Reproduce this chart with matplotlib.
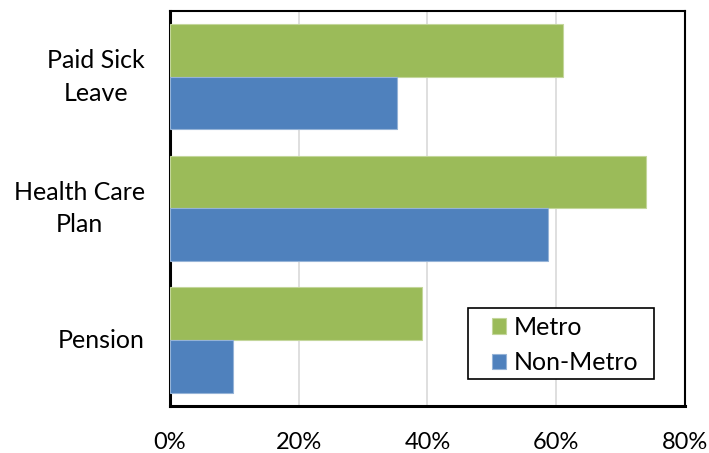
import numpy as np
import matplotlib.pyplot as plt
from matplotlib.patches import Rectangle

CATEGORIES = ['Paid Sick\nLeave', 'Health Care\nPlan', 'Pension']
METRO = [61.0, 74.0, 39.1]
NON_METRO = [35.2, 58.8, 9.8]

GREEN = '#9BBB59'
BLUE = '#4F81BD'


def plot_benefits():
    plt.rcParams['font.family'] = ['Lato', 'DejaVu Sans']
    fig = plt.figure(figsize=(7.09, 4.53), dpi=100)
    ax = fig.add_axes([0.2398, 0.1038, 0.7262, 0.8719])

    pos = np.arange(len(CATEGORIES))
    h = 0.4
    ax.barh(pos - h / 2, METRO, height=h, color=GREEN,
            edgecolor='#C3D69B', linewidth=0.8, label='Metro', zorder=3)
    ax.barh(pos + h / 2, NON_METRO, height=h, color=BLUE,
            edgecolor='#95B3D7', linewidth=0.8, label='Non-Metro', zorder=3)

    ax.set_xlim(0, 80)
    ax.set_ylim(len(CATEGORIES) - 0.5, -0.5)
    ax.set_xticks(range(0, 81, 20))
    ax.set_xticklabels([f'{v}%' for v in range(0, 81, 20)], fontsize=17)
    ax.set_yticks(pos)
    ax.set_yticklabels(CATEGORIES, fontsize=18, multialignment='center',
                       linespacing=1.5, va='center')
    ax.tick_params(axis='x', length=0, pad=19)
    ax.tick_params(axis='y', length=0, pad=18)

    ax.grid(axis='x', color='#D9D9D9', linewidth=1.2, zorder=0)
    for sp in ax.spines.values():
        sp.set_color('black')
        sp.set_linewidth(1.5)
    ax.spines['left'].set_linewidth(2.2)
    ax.spines['bottom'].set_linewidth(2.2)

    # legend box drawn separately so the entries can sit with Excel-like padding
    ax.add_patch(Rectangle((0.5786, 0.0684), 0.3612, 0.1797, transform=ax.transAxes,
                           facecolor='white', edgecolor='black', linewidth=1.2,
                           zorder=4))
    leg = ax.legend(loc='upper left', bbox_to_anchor=(0.6252, 0.228),
                    borderaxespad=0, borderpad=0, frameon=False,
                    fontsize=18, handlelength=0.56, handleheight=0.56,
                    handletextpad=0.32, labelspacing=0.5)
    leg.set_zorder(5)

    fig.savefig('out.png', dpi=100)


def main():
    plot_benefits()


if __name__ == '__main__':
    main()
